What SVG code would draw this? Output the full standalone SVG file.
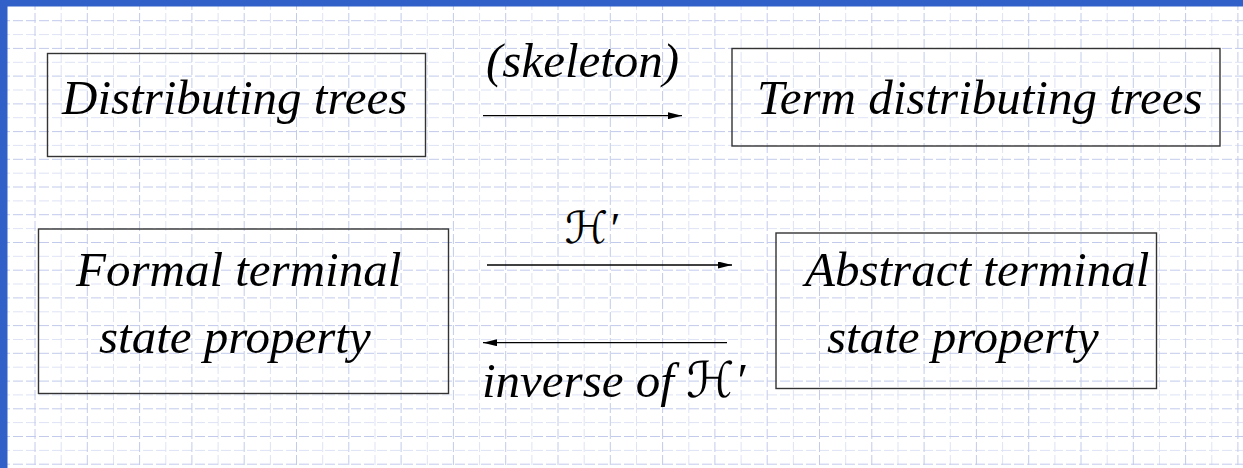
<svg xmlns="http://www.w3.org/2000/svg" width="1243" height="468" viewBox="0 0 1243 468">
  <style>
    .t { font-family: "Liberation Serif", "DejaVu Serif", "DejaVu Sans", serif; font-style: italic; font-size: 49px; fill: #000; }
    .box { fill: none; stroke: #333; stroke-width: 1.4; }
    .conn { stroke: #000; stroke-width: 1.3; fill: none; }
    .gdark { stroke: #C2CBEC; stroke-width: 1; stroke-dasharray: 10 3; fill: none; }
    .glight { stroke: #DEE3F5; stroke-width: 1; stroke-dasharray: 10 3; fill: none; }
  </style>
  <defs>
    <marker id="arrow" markerUnits="userSpaceOnUse" markerWidth="14" markerHeight="7" refX="14" refY="3.5" orient="auto">
      <path d="M0,0 L14,3.5 L0,7 z" fill="#000"/>
    </marker>
  </defs>

  <g id="background">
    <rect x="0" y="0" width="1243" height="468" fill="#FFFFFF"/>
    <path class="glight" d="M0,34.6H1243M0,62.3H1243M0,90H1243M0,117.7H1243M0,145.4H1243M0,173.2H1243M0,200.9H1243M0,228.6H1243M0,256.3H1243M0,284H1243M0,311.8H1243M0,339.5H1243M0,367.2H1243M0,394.9H1243M0,422.6H1243M0,450.4H1243"/>
    <path class="glight" d="M61.2,0V468M113.5,0V468M165.8,0V468M218.1,0V468M270.4,0V468M322.7,0V468M375,0V468M427.3,0V468M479.6,0V468M531.9,0V468M584.2,0V468M636.5,0V468M688.8,0V468M741.1,0V468M793.4,0V468M845.7,0V468M898,0V468M950.3,0V468M1002.6,0V468M1054.9,0V468M1107.2,0V468M1159.5,0V468M1211.8,0V468"/>
    <path class="gdark" d="M0,20.7H1243M0,48.4H1243M0,76.1H1243M0,103.9H1243M0,131.6H1243M0,159.3H1243M0,187H1243M0,214.7H1243M0,242.5H1243M0,270.2H1243M0,297.9H1243M0,325.6H1243M0,353.3H1243M0,381.1H1243M0,408.8H1243M0,436.5H1243M0,464.2H1243"/>
    <path class="gdark" d="M35,0V468M87.3,0V468M139.6,0V468M191.9,0V468M244.2,0V468M296.5,0V468M348.8,0V468M401.1,0V468M453.4,0V468M505.7,0V468M558,0V468M610.3,0V468M662.6,0V468M714.9,0V468M767.2,0V468M819.5,0V468M871.8,0V468M924.1,0V468M976.4,0V468M1028.7,0V468M1081,0V468M1133.3,0V468M1185.6,0V468M1237.9,0V468"/>
    <rect x="0" y="0" width="1243" height="6.5" fill="#3160C8"/>
    <rect x="0" y="0" width="7.5" height="468" fill="#3160C8"/>
  </g>

  <g id="node-distributing-trees">
    <rect class="box" x="47.5" y="53.5" width="378" height="103"/>
    <text class="t" x="62" y="114">Distributing trees</text>
  </g>

  <g id="node-term-distributing-trees">
    <rect class="box" x="732" y="48.5" width="488" height="97.5"/>
    <text class="t" x="757" y="114">Term distributing trees</text>
  </g>

  <g id="node-formal-terminal">
    <rect class="box" x="38.5" y="229" width="410" height="164.5"/>
    <text class="t" x="76" y="286">Formal terminal</text>
    <text class="t" x="99" y="352.7">state property</text>
  </g>

  <g id="node-abstract-terminal">
    <rect class="box" x="776" y="233" width="380.5" height="155.5"/>
    <text class="t" x="805" y="286">Abstract terminal</text>
    <text class="t" x="827" y="352.7">state property</text>
  </g>

  <g id="connectors">
    <line class="conn" x1="483" y1="115.7" x2="682" y2="115.7" marker-end="url(#arrow)"/>
    <text class="t" x="486" y="77">(skeleton)</text>
    <line class="conn" x1="487" y1="265" x2="732" y2="265" marker-end="url(#arrow)"/>
    <text class="t" x="591" y="243" text-anchor="middle" style="font-size:44px">ℋ′</text>
    <line class="conn" x1="727" y1="342.7" x2="483" y2="342.7" marker-end="url(#arrow)"/>
    <text class="t" x="482" y="397">inverse of ℋ′</text>
  </g>
</svg>
